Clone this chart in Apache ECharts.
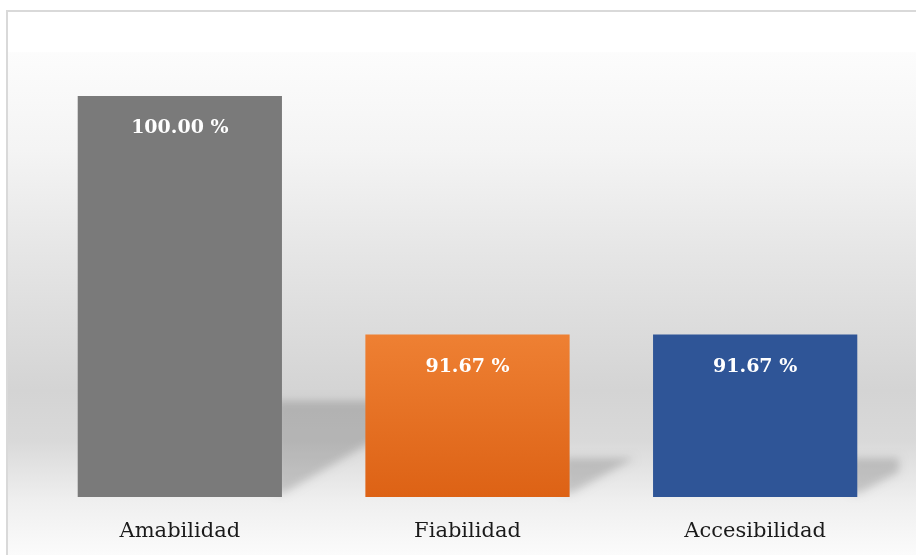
<!DOCTYPE html>
<html>
<head>
<meta charset="utf-8">
<script src="https://cdn.jsdelivr.net/npm/echarts@6/dist/echarts.min.js"></script>
<style>
  html, body { margin: 0; padding: 0; background: #fff; }
  #main { width: 916px; height: 555px; }
</style>
</head>
<body>
<div id="main"></div>
<script>
// datos del grafico
var categories = ["Amabilidad", "Fiabilidad", "Accesibilidad"];
var values = [100.00, 91.67, 91.67];
var axisMin = 86;
var axisMax = 100;

var serif = "'DejaVu Serif', 'Liberation Serif', serif";
var barColors = [
  "#7a7a7a",
  new echarts.graphic.LinearGradient(0, 0, 0, 1, [
    { offset: 0, color: "#ee8033" },
    { offset: 1, color: "#dd6215" }
  ]),
  "#2f5597"
];

var chart = echarts.init(document.getElementById("main"));

// sombra inclinada detras de cada barra (solo se ve la sombra difuminada)
var SHIFT = 3000;
function renderShadow(params, api) {
  var top = api.coord([api.value(0), api.value(1)]);
  var base = api.coord([api.value(0), axisMin]);
  var half = api.size([1, 0])[0] * 0.71 / 2;
  var right = top[0] + half;
  var h = base[1] - top[1];
  var sh = h * 0.24;
  var w = sh / 0.6;
  var edge = params.coordSys.x + params.coordSys.width;
  var far = Math.min(right + w, edge);
  return {
    type: "polygon",
    shape: {
      points: [
        [right - 6 - SHIFT, base[1] - sh],
        [far - SHIFT, base[1] - sh],
        [far - SHIFT, base[1] - sh + (right + w - far) * 0.6],
        [right + 2 - SHIFT, base[1] - 4],
        [right - 6 - SHIFT, base[1] - 4]
      ]
    },
    style: {
      fill: "#000",
      shadowBlur: 9,
      shadowOffsetX: SHIFT,
      shadowColor: "rgba(0,0,0,0.17)"
    }
  };
}

chart.setOption({
  backgroundColor: "#ffffff",
  animation: false,
  graphic: [
    {
      type: "rect",
      z: -10,
      shape: { x: 7, y: 11, width: 920, height: 560 },
      style: {
        stroke: "#d9d9d9",
        lineWidth: 2,
        fill: new echarts.graphic.LinearGradient(0, 0, 0, 1, [
          { offset: 0, color: "#ffffff" },
          { offset: 0.074, color: "#ffffff" },
          { offset: 0.076, color: "#fcfcfc" },
          { offset: 0.248, color: "#f4f4f4" },
          { offset: 0.427, color: "#e6e6e6" },
          { offset: 0.677, color: "#d4d4d4" },
          { offset: 0.766, color: "#d9d9d9" },
          { offset: 0.873, color: "#efefef" },
          { offset: 0.963, color: "#fafafa" },
          { offset: 1, color: "#ffffff" }
        ])
      }
    }
  ],
  grid: { left: 36, right: 17, top: 96, bottom: 58 },
  xAxis: {
    type: "category",
    data: categories,
    axisLine: { show: false },
    axisTick: { show: false },
    axisLabel: {
      margin: 24,
      color: "#1a1a1a",
      fontFamily: serif,
      fontSize: 21
    }
  },
  yAxis: {
    type: "value",
    min: axisMin,
    max: axisMax,
    show: false,
    splitLine: { show: false }
  },
  series: [
    {
      type: "custom",
      z: 1,
      clip: false,
      renderItem: renderShadow,
      data: values.map(function (v, i) { return [i, v]; })
    },
    {
      type: "bar",
      z: 3,
      barWidth: "71%",
      data: values.map(function (v, i) {
        return { value: v, itemStyle: { color: barColors[i] } };
      }),
      label: {
        show: true,
        position: "insideTop",
        distance: 23,
        color: "#ffffff",
        fontFamily: serif,
        fontWeight: "bold",
        fontSize: 19,
        formatter: function (p) { return p.value.toFixed(2) + " %"; }
      }
    }
  ]
});
</script>
</body>
</html>
